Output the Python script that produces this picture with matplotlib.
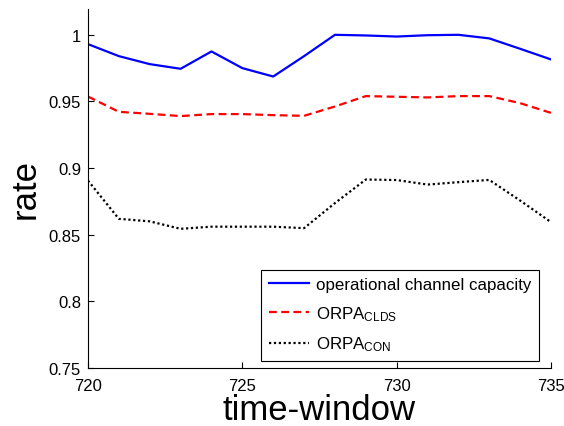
import matplotlib
matplotlib.use("Agg")
import matplotlib.pyplot as plt

plt.rcParams['font.family'] = ['Liberation Sans', 'DejaVu Sans']
plt.rcParams['mathtext.fontset'] = 'custom'
plt.rcParams['mathtext.rm'] = 'Liberation Sans'
plt.rcParams['mathtext.it'] = 'Liberation Sans'

windows = list(range(720, 736))
capacity = [0.993, 0.984, 0.978, 0.9745, 0.9875, 0.975, 0.9687, 0.984,
            1.000, 0.9995, 0.9987, 0.9997, 1.000, 0.9973, 0.9895, 0.9815]
orpa_clds = [0.9537, 0.9422, 0.9407, 0.939, 0.9405, 0.9405, 0.9397, 0.9392,
             0.9462, 0.954, 0.9535, 0.953, 0.954, 0.954, 0.9487, 0.9414]
orpa_con = [0.8906, 0.8619, 0.860, 0.8544, 0.856, 0.856, 0.856, 0.8549,
            0.8737, 0.8914, 0.891, 0.8876, 0.8894, 0.8911, 0.8756, 0.8594]
labels = ['operational channel capacity', r'ORPA$_{\mathrm{CLDS}}$', r'ORPA$_{\mathrm{CON}}$']
xticks = [720, 725, 730, 735]
yticks = [0.75, 0.8, 0.85, 0.9, 0.95, 1.0]
ytick_labels = ['0.75', '0.8', '0.85', '0.9', '0.95', '1']

fig = plt.figure(figsize=(5.64, 4.27), dpi=100)
ax = fig.add_axes([0.156, 0.136, 0.821, 0.841])

ax.plot(windows, capacity, color='#0000ff', linestyle='-', linewidth=1.6, label=labels[0])
ax.plot(windows, orpa_clds, color='#ff0000', linestyle=(0, (3.5, 2)), linewidth=1.6, label=labels[1])
ax.plot(windows, orpa_con, color='black', linestyle=(0, (1, 1.2)), linewidth=1.6, label=labels[2])

ax.set_xlim(720, 735)
ax.set_ylim(0.75, 1.0195)
ax.set_xticks(xticks)
ax.set_xticklabels([str(t) for t in xticks])
ax.set_yticks(yticks)
ax.set_yticklabels(ytick_labels)
ax.tick_params(direction='in', length=4, labelsize=12, width=0.8)
ax.tick_params(axis='x', pad=7)
ax.tick_params(axis='y', pad=5)
ax.spines['top'].set_visible(False)
ax.spines['right'].set_visible(False)
for s in ('left', 'bottom'):
    ax.spines[s].set_linewidth(0.8)

ax.set_xlabel('time-window', fontsize=25, labelpad=0)
ax.set_ylabel('rate', fontsize=25, labelpad=5)

leg = ax.legend(loc='lower right', bbox_to_anchor=(0.974, 0.0195), borderaxespad=0,
                fontsize=12.2, frameon=True, fancybox=False, edgecolor='black',
                framealpha=1, handlelength=2.4, borderpad=0.45, labelspacing=0.7,
                handletextpad=0.4)
leg.get_frame().set_linewidth(0.8)

fig.savefig('out.png', dpi=100)
